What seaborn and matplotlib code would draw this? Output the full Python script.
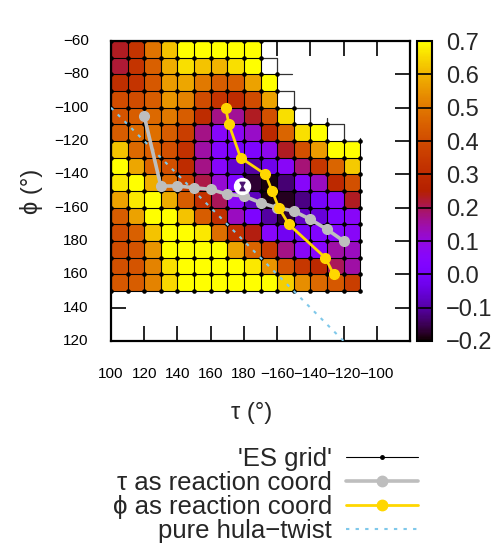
import numpy as np
import pandas as pd
import matplotlib
matplotlib.use("Agg")
import matplotlib.pyplot as plt
from matplotlib.collections import LineCollection
from matplotlib.lines import Line2D
from matplotlib.path import Path
from matplotlib.transforms import Affine2D
import seaborn as sns

nan = np.nan

# Lower-left corners of the excited-state grid cells (degrees)
tau_cells = [100, 110, 120, 130, 140, 150, 160, 170, 180, 190, 200, 210, 220, 230, 240]
phi_cells = [-60, -70, -80, -90, -100, -110, -120, -130, -140, -150, -160, -170, -180, -190, -200]

# Relative excited-state energy on the grid (eV); rows follow phi_cells, columns tau_cells
energy = [
    [0.23, 0.33, 0.49, 0.62, 0.70, 0.70, 0.70, 0.70, 0.70, nan, nan, nan, nan, nan, nan],
    [0.22, 0.33, 0.45, 0.59, 0.66, 0.62, 0.60, 0.66, 0.70, nan, nan, nan, nan, nan, nan],
    [0.31, 0.33, 0.43, 0.56, 0.58, 0.50, 0.44, 0.45, 0.57, 0.70, nan, nan, nan, nan, nan],
    [0.40, 0.40, 0.44, 0.55, 0.52, 0.40, 0.33, 0.30, 0.40, 0.57, nan, nan, nan, nan, nan],
    [0.42, 0.44, 0.47, 0.50, 0.44, 0.30, 0.17, 0.16, 0.23, 0.41, 0.66, nan, nan, nan, nan],
    [0.44, 0.47, 0.48, 0.44, 0.36, 0.17, 0.05, 0.07, 0.12, 0.29, 0.46, 0.66, 0.70, nan, nan],
    [0.62, 0.47, 0.45, 0.41, 0.32, 0.15, 0.04, 0.00, 0.02, 0.08, 0.23, 0.41, 0.56, 0.70, 0.70],
    [0.70, 0.58, 0.46, 0.41, 0.30, 0.17, 0.05, -0.06, -0.10, -0.03, 0.06, 0.18, 0.34, 0.46, 0.63],
    [0.67, 0.70, 0.59, 0.47, 0.36, 0.21, 0.11, 0.02, -0.17, -0.19, -0.13, 0.05, 0.13, 0.29, 0.41],
    [0.57, 0.67, 0.70, 0.59, 0.44, 0.32, 0.20, 0.06, -0.08, -0.19, -0.18, -0.12, 0.00, 0.06, 0.23],
    [0.44, 0.57, 0.70, 0.70, 0.62, 0.44, 0.31, 0.13, 0.02, -0.10, -0.17, -0.07, -0.05, 0.02, 0.06],
    [0.40, 0.45, 0.62, 0.70, 0.70, 0.67, 0.48, 0.32, 0.24, 0.05, -0.02, 0.00, 0.03, 0.04, 0.06],
    [0.40, 0.42, 0.55, 0.70, 0.70, 0.70, 0.70, 0.57, 0.46, 0.35, 0.17, 0.06, 0.05, 0.15, 0.13],
    [0.41, 0.42, 0.52, 0.66, 0.70, 0.70, 0.70, 0.70, 0.67, 0.55, 0.42, 0.34, 0.29, 0.20, 0.15],
    [0.43, 0.44, 0.52, 0.65, 0.70, 0.70, 0.70, 0.70, 0.70, 0.70, 0.64, 0.54, 0.47, 0.43, 0.36],
]

# Relaxed scan with tau as the reaction coordinate
tau_scan_tau = [120, 130, 140, 150, 160, 170, 180, 190, 200, 210, 220, 230, 240]
tau_scan_phi = [-105, -147, -147, -148, -149, -152, -153, -157, -160, -162, -167, -173, -180]

# Relaxed scan with phi as the reaction coordinate
phi_scan_tau = [169, 171, 178, 193, 197, 201, 207, 229, 234]
phi_scan_phi = [-100, -110, -130, -140, -150, -160, -170, -190, -200]

# Pure hula-twist direction
hula_tau = [100, 240]
hula_phi = [-100, -240]

# Excited-state minimum
es_min_tau = [179]
es_min_phi = [-147]

# Grid lines running on past the computed cells
grid_stub_tau = [[190, 200, 200], [200, 209], [200, 210, 210, 220, 220], [230, 230, 240, 240, 250, 250]]
grid_stub_phi = [[-70, -70, -80], [-80, -80], [-90, -90, -100, -100, -110], [-106, -110, -110, -120, -120, -118]]

tau_ticks = [100, 120, 140, 160, 180, 200, 220, 240, 260]
tau_tick_labels = ["100", "120", "140", "160", "180", "\u2212160", "\u2212140", "\u2212120", "\u2212100"]
phi_ticks = [-60, -80, -100, -120, -140, -160, -180, -200, -220, -240]
phi_tick_labels = ["\u221260", "\u221280", "\u2212100", "\u2212120", "\u2212140", "\u2212160",
                   "180", "160", "140", "120"]
cbar_ticks = [-0.2, -0.1, 0.0, 0.1, 0.2, 0.3, 0.4, 0.5, 0.6, 0.7]

HULA_BLUE = "#7fc8ea"
GREY = "#bebebe"
GOLD = "#ffd700"

sns.set_style("white")
plt.rcParams["font.family"] = ["Liberation Sans", "DejaVu Sans"]

fig = plt.figure(figsize=(5.0, 5.47), dpi=100)
ax = fig.add_axes([0.222, 0.3766, 0.598, 0.5484])
cax = fig.add_axes([0.834, 0.3766, 0.030, 0.5484])

grid = pd.DataFrame(energy, index=phi_cells, columns=tau_cells)
sns.heatmap(grid, ax=ax, cbar_ax=cax, cmap="gnuplot", vmin=-0.2, vmax=0.7,
            mask=grid.isna(), linewidths=0)

# degrees -> heatmap cell coordinates (tau to the right, phi downwards)
deg = Affine2D().translate(-100, 60).scale(0.1, -0.1) + ax.transData

ax.set_xlim((100 - 100) / 10, (280 - 100) / 10)
ax.set_ylim((-60 - -240) / 10, 0)

# grid lines and grid points around every computed cell
edges = set()
corners = set()
for i, phi0 in enumerate(phi_cells):
    for j, tau0 in enumerate(tau_cells):
        if np.isnan(energy[i][j]):
            continue
        t1, p1 = tau0 + 10, phi0 - 10
        edges.update({((tau0, phi0), (t1, phi0)), ((tau0, p1), (t1, p1)),
                      ((tau0, phi0), (tau0, p1)), ((t1, phi0), (t1, p1))})
        corners.update({(tau0, phi0), (t1, phi0), (tau0, p1), (t1, p1)})
ax.add_collection(LineCollection(sorted(edges), colors="black", linewidths=0.8,
                                 transform=deg, zorder=2))
for st, sp in zip(grid_stub_tau, grid_stub_phi):
    ax.plot(st, sp, color="#333333", lw=0.9, transform=deg, zorder=2)
corners = sorted(corners)
ax.scatter([c[0] for c in corners], [c[1] for c in corners], s=11, color="black",
           linewidths=0, transform=deg, zorder=3)

ax.plot(hula_tau, hula_phi, color=HULA_BLUE, lw=1.5, dashes=(1.6, 3), transform=deg, zorder=4)
ax.plot(tau_scan_tau, tau_scan_phi, color=GREY, lw=2.6, marker="o", ms=7,
        transform=deg, zorder=5)
ax.plot(phi_scan_tau, phi_scan_phi, color=GOLD, lw=2.0, marker="o", ms=7,
        transform=deg, zorder=6)

hourglass = Path([(-0.6, 1), (0.6, 1), (-0.6, -1), (0.6, -1), (-0.6, 1)],
                 [Path.MOVETO, Path.LINETO, Path.LINETO, Path.LINETO, Path.CLOSEPOLY])
ax.plot(es_min_tau, es_min_phi, marker="o", ms=11.5, mfc="white", mec="white",
        ls="none", transform=deg, zorder=7)
ax.plot(es_min_tau, es_min_phi, marker=hourglass, ms=6, mfc="#4b1470", mec="#4b1470",
        ls="none", transform=deg, zorder=8)

# axes frame and inward ticks on all four sides, hidden under the cells
for s in ax.spines.values():
    s.set_visible(True)
    s.set_linewidth(1.6)
    s.set_color("black")
ax.set_axisbelow(True)
ax.set_xticks([(t - 100) / 10 for t in tau_ticks])
ax.set_xticklabels(tau_tick_labels, rotation=0)
ax.set_yticks([(-60 - p) / 10 for p in phi_ticks])
ax.set_yticklabels(phi_tick_labels, rotation=0)
ax.tick_params(direction="in", length=10.8, width=1.2, top=True, right=True,
               bottom=True, left=True, labelsize=11, colors="black")
ax.tick_params(axis="x", pad=19)
ax.tick_params(axis="y", pad=16)
ax.set_xlabel("\u03c4 (\u00b0)", fontsize=17)
ax.xaxis.set_label_coords(0.47, -0.205)
ax.set_ylabel("\u03d5 (\u00b0)", fontsize=17, labelpad=8)

cbar = ax.collections[0].colorbar
cbar.set_ticks(cbar_ticks)
cbar.set_ticklabels([f"{v:.1f}".replace("-", "\u2212") for v in cbar_ticks])
cbar.ax.tick_params(length=0, labelsize=17, pad=10)
cbar.outline.set_visible(True)
cbar.outline.set_linewidth(1.5)
cbar.outline.set_edgecolor("black")
for v in cbar_ticks[1:-1]:
    cax.axhline(v, color="black", lw=1.2)

handles = [
    Line2D([], [], color="black", lw=0.8, marker="o", ms=2.5),
    Line2D([], [], color=GREY, lw=2.6, marker="o", ms=7.5),
    Line2D([], [], color=GOLD, lw=2.0, marker="o", ms=7.5),
    Line2D([], [], color=HULA_BLUE, lw=1.5, dashes=(1.6, 3)),
]
labels = ["'ES grid'", "\u03c4 as reaction coord", "\u03d5 as reaction coord", "pure hula\u2212twist"]
fig.legend(handles, labels, loc="upper right", bbox_to_anchor=(0.836, 0.183),
           frameon=False, markerfirst=False, fontsize=18.5, handlelength=2.8,
           handletextpad=0.55, labelspacing=0.0, borderpad=0, borderaxespad=0)

fig.savefig("out.png", dpi=100)
